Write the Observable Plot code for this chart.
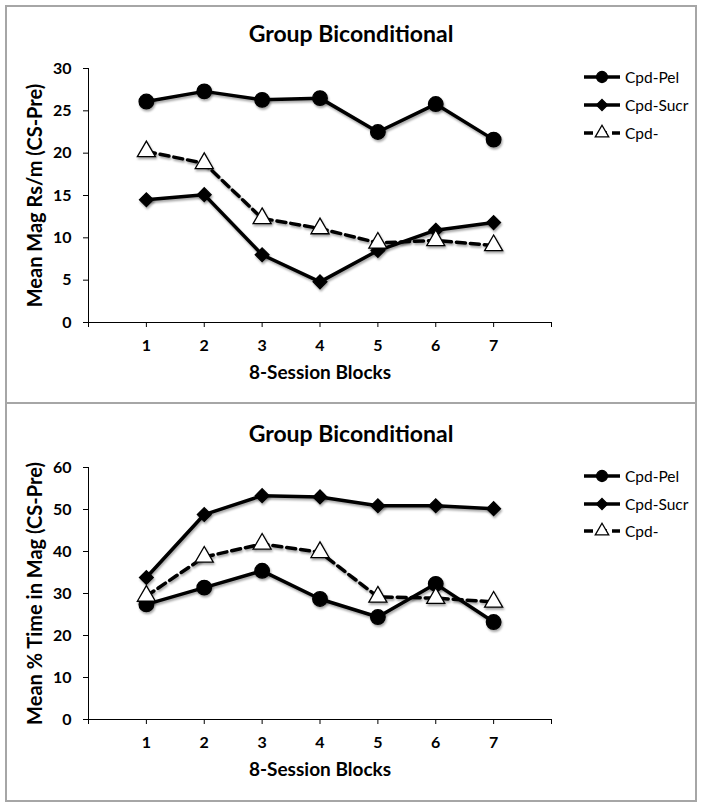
<!DOCTYPE html>
<html><head><meta charset="utf-8">
<script src="https://cdn.jsdelivr.net/npm/d3@7"></script>
<script src="https://cdn.jsdelivr.net/npm/@observablehq/plot@0.6"></script>
<style>
body{margin:0;background:#fff;font-family:Lato,sans-serif;}
#wrap{position:relative;width:704px;height:808px;}
.panel{position:absolute;left:5px;width:692px;box-sizing:border-box;border:2px solid #a6a6a6;background:#fff;}
.panel svg{position:absolute;left:0;top:0;}
.title{position:absolute;left:0;width:100%;text-align:center;font-weight:bold;font-size:23px;line-height:28px;color:#000;}
.leg{position:absolute;display:flex;align-items:center;font-size:15.5px;line-height:20px;color:#000;}
.leg svg{position:static;overflow:visible;}
g[aria-label="y-axis label"] text{font-size:20px;}
g[aria-label="x-axis label"] text{font-size:19px;}
g[aria-label="line"], g[aria-label="dot"]{filter:drop-shadow(1.5px 2px 1.2px rgba(0,0,0,0.35));}
</style>
</head><body>
<div id="wrap"></div>
<script>
const blocks = [1, 2, 3, 4, 5, 6, 7];
const seriesNames = ["Cpd-Pel", "Cpd-Sucr", "Cpd-"];
const titleText = "Group Biconditional";
const xLabel = "8-Session Blocks";

// Panel 1: Mean Mag Rs/m (CS-Pre)
const yLabel1 = "Mean Mag Rs/m (CS-Pre)";
const yTicks1 = [0, 5, 10, 15, 20, 25, 30];
const pel1 = [26.1, 27.3, 26.3, 26.5, 22.5, 25.8, 21.6];
const sucr1 = [14.5, 15.1, 8.0, 4.8, 8.5, 10.9, 11.8];
const minus1 = [20.2, 18.8, 12.3, 11.1, 9.4, 9.7, 9.1];

// Panel 2: Mean % Time in Mag (CS-Pre)
const yLabel2 = "Mean % Time in Mag (CS-Pre)";
const yTicks2 = [0, 10, 20, 30, 40, 50, 60];
const pel2 = [27.4, 31.4, 35.4, 28.7, 24.4, 32.3, 23.2];
const sucr2 = [33.8, 48.8, 53.3, 53.0, 50.9, 50.9, 50.2];
const minus2 = [29.4, 38.7, 41.8, 39.8, 29.2, 28.9, 28.0];

const styles = {
  "Cpd-Pel": {symbol: "circle", r: 7.3, fill: "black", stroke: "black", dash: null},
  "Cpd-Sucr": {symbol: "diamond2", r: 6.2, fill: "black", stroke: "black", dash: null},
  "Cpd-": {symbol: "triangle", r: 6.7, fill: "white", stroke: "black", dash: "9,5"}
};

function rows(name, vals) { return blocks.map((b, i) => ({block: b, value: vals[i], series: name})); }

function makePanel(cfg) {
  const panel = document.createElement("div");
  panel.className = "panel";
  panel.style.top = cfg.top + "px";
  panel.style.height = cfg.height + "px";
  document.getElementById("wrap").appendChild(panel);

  const seriesData = [rows("Cpd-Pel", cfg.pel), rows("Cpd-Sucr", cfg.sucr), rows("Cpd-", cfg.minus)];
  const marks = [
    Plot.axisY({ticks: cfg.yTicks, tickSize: 5, tickPadding: 12, label: cfg.yLabel, labelAnchor: "center", labelOffset: 61, labelArrow: "none"}),
    Plot.axisX({ticks: d3.range(0, 9), tickFormat: d => (d >= 1 && d <= 7 ? String(d) : ""), tickSize: 5, tickPadding: 12, label: xLabel, labelAnchor: "center", labelOffset: 56, labelArrow: "none"}),
    Plot.ruleX([0], {stroke: "black", strokeWidth: 1}),
    Plot.ruleY([0], {stroke: "black", strokeWidth: 1})
  ];
  for (const d of seriesData) {
    const s = styles[d[0].series];
    marks.push(Plot.line(d, {x: "block", y: "value", stroke: "black", strokeWidth: 3.5, strokeDasharray: s.dash}));
    marks.push(Plot.dot(d, {x: "block", y: "value", symbol: () => s.symbol, r: s.r, fill: s.fill, stroke: s.stroke, strokeWidth: 1.3}));
  }
  const chart = Plot.plot({
    width: 688, height: 390,
    marginLeft: 81, marginRight: 144, marginTop: cfg.marginTop, marginBottom: 75,
    x: {domain: [0, 8]},
    y: {domain: [cfg.yTicks[0], cfg.yTicks[cfg.yTicks.length - 1]]},
    symbol: {type: "identity"},
    style: {fontFamily: "Lato, sans-serif", fontSize: "16px", fontWeight: "bold", color: "black", background: "transparent"},
    marks
  });
  panel.appendChild(chart);

  const t = document.createElement("div");
  t.className = "title";
  t.style.top = cfg.titleTop + "px";
  t.textContent = titleText;
  panel.appendChild(t);

  seriesNames.forEach((name, i) => {
    const s = styles[name];
    const item = document.createElement("div");
    item.className = "leg";
    item.style.left = "577px";
    item.style.top = (cfg.legTop + i * cfg.legGap - 10) + "px";
    const sw = d3.create("svg").attr("width", 40).attr("height", 20);
    sw.append("line").attr("x1", 0).attr("x2", 36).attr("y1", 10).attr("y2", 10)
      .attr("stroke", "black").attr("stroke-width", 3.5).attr("stroke-dasharray", s.dash);
    sw.append("path").attr("transform", "translate(18,10)")
      .attr("d", d3.symbol(s.symbol === "circle" ? d3.symbolCircle : s.symbol === "diamond2" ? d3.symbolDiamond2 : d3.symbolTriangle, s.symbol === "circle" ? Math.PI * 30 : Math.PI * 25)())
      .attr("fill", s.fill).attr("stroke", "black").attr("stroke-width", 1.3);
    item.appendChild(sw.node());
    const lab = document.createElement("span");
    lab.textContent = name;
    lab.style.marginLeft = "1px";
    item.appendChild(lab);
    panel.appendChild(item);
  });
}

makePanel({top: 5, height: 399, marginTop: 61, titleTop: 12, legTop: 70, legGap: 28, yLabel: yLabel1, yTicks: yTicks1, pel: pel1, sucr: sucr1, minus: minus1});
makePanel({top: 402, height: 400, marginTop: 63, titleTop: 15, legTop: 72, legGap: 27.5, yLabel: yLabel2, yTicks: yTicks2, pel: pel2, sucr: sucr2, minus: minus2});
</script>
</body></html>
